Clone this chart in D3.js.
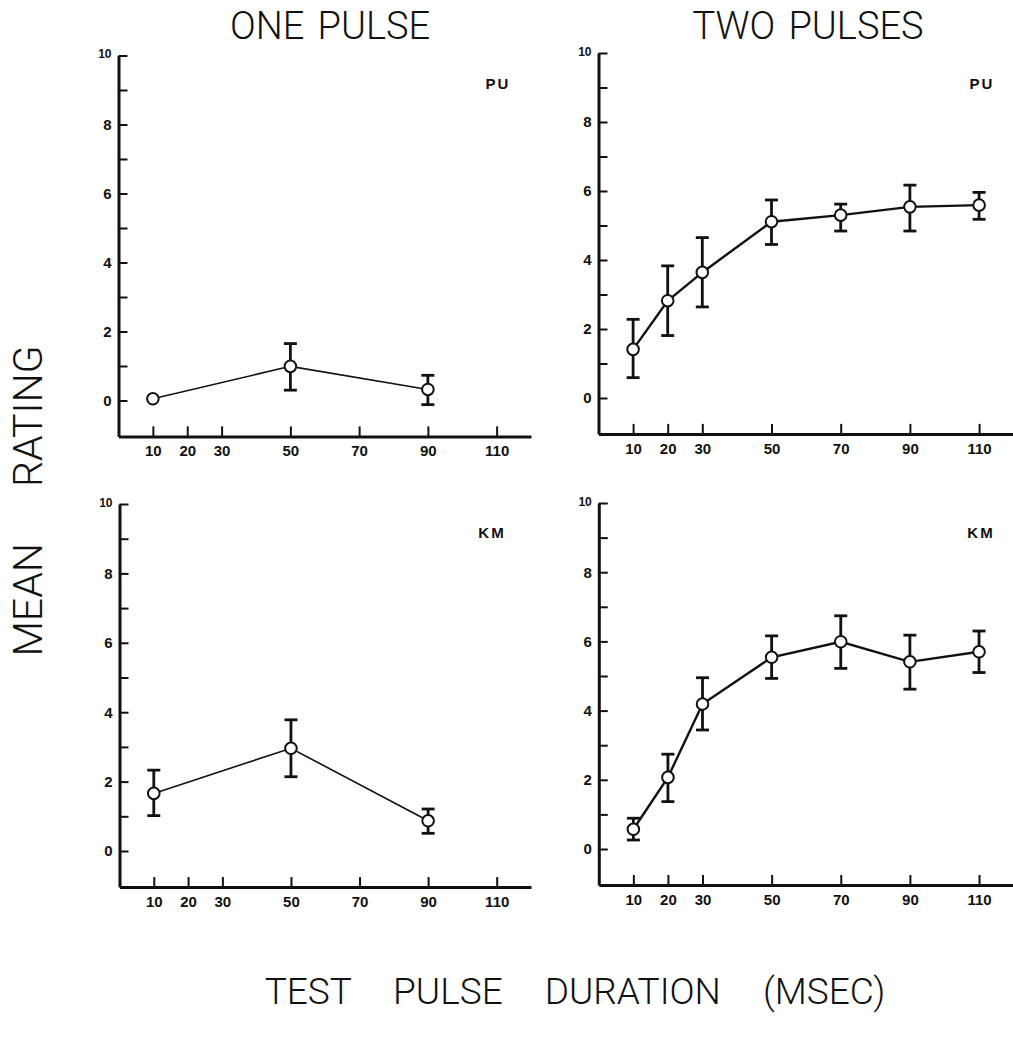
<!DOCTYPE html>
<html>
<head>
<meta charset="utf-8">
<script src="https://cdn.jsdelivr.net/npm/d3@7"></script>
<style>
  body { margin: 0; background: #fff; }
  svg { display: block; }
  .tick text { font-family: "Liberation Sans", Arial, sans-serif; font-weight: bold; fill: #111; }
  .title { font-family: Roboto, "DejaVu Sans", sans-serif; font-weight: 300; fill: #111; }
</style>
</head>
<body>
<div id="chart"></div>
<script>
// Test pulse durations (msec)
const durationsOne = [10, 50, 90];
const durationsTwo = [10, 20, 30, 50, 70, 90, 110];
const xTickValues = [10, 20, 30, 50, 70, 90, 110];
const yTickValues = [0, 1, 2, 3, 4, 5, 6, 7, 8, 9, 10];

// Subject PU
const puOneMean = [0.05, 0.99, 0.32];
const puOneLow  = [null, 0.30, -0.12];
const puOneHigh = [null, 1.65, 0.73];
const puTwoMean = [1.41, 2.82, 3.64, 5.11, 5.30, 5.54, 5.59];
const puTwoLow  = [0.59, 1.81, 2.64, 4.45, 4.84, 4.84, 5.18];
const puTwoHigh = [2.28, 3.83, 4.65, 5.74, 5.62, 6.17, 5.96];

// Subject KM
const kmOneMean = [1.66, 2.96, 0.87];
const kmOneLow  = [1.02, 2.14, 0.51];
const kmOneHigh = [2.33, 3.78, 1.21];
const kmTwoMean = [0.57, 2.07, 4.19, 5.54, 5.99, 5.41, 5.70];
const kmTwoLow  = [0.26, 1.37, 3.44, 4.93, 5.22, 4.62, 5.10];
const kmTwoHigh = [0.89, 2.74, 4.95, 6.16, 6.74, 6.18, 6.30];

const W = 1013, H = 1039;

const svg = d3.select("#chart")
  .append("svg")
  .attr("width", W)
  .attr("height", H);

// panel layout: pixel of x=0, width of 120 msec, pixel of rating 0 and 10
const panels = [
  { left: 118.5, right: 531,  y0: 400.5, y10: 55.5, label: "PU", lx: 498, ly: 89,
    x: durationsOne, mean: puOneMean, low: puOneLow, high: puOneHigh, lw: 1.6 },
  { left: 598.5, right: 1013.7, y0: 398, y10: 53, label: "PU", lx: 982, ly: 89,
    x: durationsTwo, mean: puTwoMean, low: puTwoLow, high: puTwoHigh, lw: 2.4 },
  { left: 119.5, right: 531,  y0: 851, y10: 504, label: "KM", lx: 492, ly: 538,
    x: durationsOne, mean: kmOneMean, low: kmOneLow, high: kmOneHigh, lw: 1.6 },
  { left: 598.8, right: 1013.6, y0: 849, y10: 503, label: "KM", lx: 981, ly: 538,
    x: durationsTwo, mean: kmTwoMean, low: kmTwoLow, high: kmTwoHigh, lw: 2.4 }
];

const yMin = -1.04;

panels.forEach(p => {
  const x = d3.scaleLinear().domain([0, 120]).range([p.left, p.right]);
  const y = d3.scaleLinear().domain([0, 10]).range([p.y0, p.y10]);
  const yAxisScale = d3.scaleLinear().domain([yMin, 10]).range([y(yMin), y(10)]);

  // y axis, ticks pointing inward
  const gy = svg.append("g")
    .attr("transform", `translate(${x(0)},0)`)
    .call(d3.axisLeft(yAxisScale)
      .tickValues(yTickValues)
      .tickSizeInner(-9)
      .tickSizeOuter(0)
      .tickPadding(7)
      .tickFormat(d => d % 2 === 0 ? d : ""));
  gy.select(".domain").attr("stroke", "#111").attr("stroke-width", 3);
  gy.selectAll(".tick line").attr("stroke", "#111").attr("stroke-width", 2);
  gy.selectAll(".tick text")
    .style("font-size", d => d === 10 ? "12px" : "15px")
    .attr("dy", d => d === 10 ? "0.2em" : "0.32em");

  // x axis, ticks pointing up
  const gx = svg.append("g")
    .attr("transform", `translate(0,${y(yMin)})`)
    .call(d3.axisBottom(x)
      .tickValues(xTickValues)
      .tickSizeInner(-10)
      .tickSizeOuter(0)
      .tickPadding(9));
  gx.select(".domain").attr("stroke", "#111").attr("stroke-width", 3);
  gx.selectAll(".tick line").attr("stroke", "#111").attr("stroke-width", 2);
  gx.selectAll(".tick text").style("font-size", "15px");

  const pts = p.x.map((d, i) => ({ x: d, m: p.mean[i], lo: p.low[i], hi: p.high[i] }));

  // connecting line
  const line = d3.line().x(d => x(d.x)).y(d => y(d.m));
  svg.append("path")
    .datum(pts)
    .attr("fill", "none")
    .attr("stroke", "#111")
    .attr("stroke-width", p.lw)
    .attr("d", line);

  // error bars
  const bars = pts.filter(d => d.lo !== null);
  const eb = svg.append("g").attr("stroke", "#111").attr("stroke-width", 2.8);
  eb.selectAll(".stem").data(bars).join("line")
    .attr("x1", d => x(d.x)).attr("x2", d => x(d.x))
    .attr("y1", d => y(d.lo)).attr("y2", d => y(d.hi));
  eb.selectAll(".capHi").data(bars).join("line")
    .attr("x1", d => x(d.x) - 6.5).attr("x2", d => x(d.x) + 6.5)
    .attr("y1", d => y(d.hi)).attr("y2", d => y(d.hi));
  eb.selectAll(".capLo").data(bars).join("line")
    .attr("x1", d => x(d.x) - 6.5).attr("x2", d => x(d.x) + 6.5)
    .attr("y1", d => y(d.lo)).attr("y2", d => y(d.lo));

  // open circles
  svg.append("g").selectAll("circle").data(pts).join("circle")
    .attr("cx", d => x(d.x))
    .attr("cy", d => y(d.m))
    .attr("r", 5.8)
    .attr("fill", "#fff")
    .attr("stroke", "#111")
    .attr("stroke-width", 2);

  // subject label
  svg.append("text")
    .attr("x", p.lx)
    .attr("y", p.ly)
    .attr("text-anchor", "middle")
    .attr("letter-spacing", "2px")
    .style("font-family", "Liberation Sans, Arial, sans-serif")
    .style("font-weight", "bold")
    .style("font-size", "15px")
    .style("fill", "#111")
    .text(p.label);
});

// column titles
svg.append("text").attr("class", "title")
  .attr("x", 330).attr("y", 39)
  .attr("text-anchor", "middle")
  .attr("word-spacing", "4px")
  .style("font-size", "38px")
  .text("ONE PULSE");

svg.append("text").attr("class", "title")
  .attr("x", 808).attr("y", 39)
  .attr("text-anchor", "middle")
  .attr("word-spacing", "4px")
  .style("font-size", "38px")
  .text("TWO PULSES");

// y label
svg.append("text").attr("class", "title")
  .attr("transform", "translate(42,501) rotate(-90)")
  .attr("text-anchor", "middle")
  .attr("word-spacing", "46px")
  .style("font-size", "41px")
  .text("MEAN RATING");

// x label
svg.append("text").attr("class", "title")
  .attr("x", 575).attr("y", 1004)
  .attr("text-anchor", "middle")
  .attr("word-spacing", "33px")
  .style("font-size", "37px")
  .text("TEST PULSE DURATION (MSEC)");
</script>
</body>
</html>
